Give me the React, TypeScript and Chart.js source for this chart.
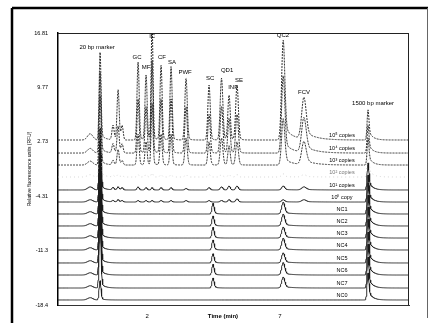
import { useEffect, useRef } from "react";
import { Chart, registerables } from "chart.js";
Chart.register(...registerables);

// ---- data ----
const traceLabels = ["10⁵ copies", "10⁴ copies", "10³ copies", "10² copies", "10¹ copies", "10⁰ copy", "NC1", "NC2", "NC3", "NC4", "NC5", "NC6", "NC7", "NC0"];
const traceBaselines = [2.96, 1.27, -0.28, -1.83, -3.51, -5.07, -6.62, -8.17, -9.73, -11.28, -12.96, -14.52, -16.2, -17.75];

// peaks: times (min), widths (sigma, min), tail fraction, tail decay (min)
const peakTimes = [-0.14, 0.233, 0.72, 0.91, 1.06, 1.662, 1.962, 2.188, 2.526, 2.902, 3.466, 4.331, 4.48, 4.8, 5.083, 5.383, 7.12, 7.9, 10.31];
const peakWidths = [0.1, 0.035, 0.04, 0.04, 0.04, 0.04, 0.04, 0.035, 0.04, 0.04, 0.045, 0.045, 0.04, 0.05, 0.045, 0.05, 0.06, 0.085, 0.035];
const peakTailFrac = [0, 0.08, 0, 0, 0, 0.05, 0.05, 0.05, 0.05, 0.05, 0.05, 0.05, 0.2, 0.05, 0.05, 0.06, 0.15, 0.2, 0.35];
const peakTailTau = [1, 0.15, 1, 1, 1, 0.1, 0.1, 0.1, 0.1, 0.1, 0.1, 0.1, 0.1, 0.1, 0.1, 0.1, 0.3, 0.4, 0.15];

// heights per trace (units), same order as peakTimes
const heights10e5 = [0.8, 11.4, 1.9, 6.5, 1.9, 10.1, 8.4, 15, 9.7, 9.5, 8.0, 7.1, 0, 8.0, 5.8, 7.1, 12.9, 5.4, 3.9];
const heights10e4 = [0.6, 10.5, 1.2, 3.5, 1.2, 7, 6, 12, 7, 7, 6, 5, 0, 6, 4.5, 5, 10, 4.5, 3.6];
const heights10e3 = [0.5, 9, 0.6, 2, 0.6, 4, 3, 8, 4, 4, 3.5, 3, 0, 3.5, 2.5, 3, 6, 3, 3.5];
const heights10e2 = [0.3, 8, 0.2, 0.3, 0.2, 0.3, 0.3, 0.5, 0.3, 0.3, 0.3, 0.3, 0, 0.3, 0.3, 0.3, 0.4, 0.3, 3.5];
const heights10e1 = [0.4, 8, 0.3, 0.4, 0.3, 0.4, 0.3, 0.3, 0.3, 0.3, 0.2, 0.3, 0, 0.4, 0.5, 0.5, 0.5, 0.4, 3.5];
const heights10e0 = [0.3, 8, 0.2, 0.3, 0.2, 0.2, 0.2, 0.2, 0.2, 0.2, 0.2, 0.2, 0, 0.2, 0.3, 0.4, 0.3, 0.3, 3.5];
const heightsNC1 = [0.3, 9, 0, 0, 0, 0, 0, 0, 0, 0, 0, 0, 1.4, 0, 0, 0, 1.5, 0, 4];
const heightsNC2 = [0.3, 9, 0, 0, 0, 0, 0, 0, 0, 0, 0, 0, 1.3, 0, 0, 0, 1.5, 0, 4];
const heightsNC3 = [0.3, 9, 0, 0, 0, 0, 0, 0, 0, 0, 0, 0, 1.4, 0, 0, 0, 1.4, 0, 4];
const heightsNC4 = [0.3, 9, 0, 0, 0, 0, 0, 0, 0, 0, 0, 0, 1.3, 0, 0, 0, 1.5, 0, 4];
const heightsNC5 = [0.3, 9, 0, 0, 0, 0, 0, 0, 0, 0, 0, 0, 1.2, 0, 0, 0, 1.3, 0, 4];
const heightsNC6 = [0.3, 9, 0, 0, 0, 0, 0, 0, 0, 0, 0, 0, 1.4, 0, 0, 0, 1.6, 0, 4];
const heightsNC7 = [0.3, 9, 0, 0, 0, 0, 0, 0, 0, 0, 0, 0, 1.3, 0, 0, 0, 1.4, 0, 4];
const heightsNC0 = [0.3, 2.5, 0, 0, 0, 0, 0, 0, 0, 0, 0, 0, 0, 0, 0, 0, 0, 0, 3.5];
const traceHeights = [heights10e5, heights10e4, heights10e3, heights10e2, heights10e1, heights10e0, heightsNC1, heightsNC2, heightsNC3, heightsNC4, heightsNC5, heightsNC6, heightsNC7, heightsNC0];

// peak annotations (text, time, value)
const peakLabelTexts = ["20 bp marker", "GC", "MF", "IC", "CF", "SA", "PWF", "SC", "QD1", "INF", "SE", "QC2", "FCV", "1500 bp marker"];
const peakLabelTimes = [0.12, 1.62, 1.96, 2.19, 2.56, 2.94, 3.43, 4.37, 5.01, 5.23, 5.46, 7.11, 7.9, 10.5];
const peakLabelValues = [15.0, 13.7, 12.3, 16.4, 13.7, 13.05, 11.76, 10.98, 12.0, 9.82, 10.73, 16.55, 9.17, 7.75];

const xMin = -1.35;
const xMax = 11.85;
const xTickValues = [2, 7];
const yTickValues = [16.81, 9.77, 2.73, -4.31, -11.35, -18.4];
const yTickLabels = ["16.81", "9.77", "2.73", "-4.31", "-11.3", "-18.4"];
const xTitle = "Time (min)";
const yTitle = "Relative fluorescence units (RFU)";

function signal(t: number, heights: number[], base: number) {
  let v = base;
  for (let i = 0; i < peakTimes.length; i++) {
    const h = heights[i];
    if (!h) continue;
    const d = t - peakTimes[i];
    const g = Math.exp(-0.5 * (d / peakWidths[i]) ** 2);
    if (d < 0) v += h * g;
    else {
      const f = peakTailFrac[i];
      v += h * ((1 - f) * g + f * Math.exp(-d / peakTailTau[i]));
    }
  }
  return v;
}

const FONT = '"Liberation Sans", Arial, sans-serif';

export default function App() {
  const ref = useRef<HTMLCanvasElement>(null);
  useEffect(() => {
    const canvas = ref.current!;
    const step = 0.01;
    const n = Math.round((xMax - xMin) / step);
    const datasets = traceLabels.map((lab, k) => {
      const pts = [];
      for (let i = 0; i <= n; i++) {
        const t = xMin + i * step;
        pts.push({ x: t, y: signal(t, traceHeights[k], traceBaselines[k]) });
      }
      const faint = k === 3;
      return {
        label: lab,
        data: pts,
        borderColor: faint ? "#c8c8c8" : "#1a1a1a",
        borderWidth: faint ? 0.8 : 0.9,
        borderDash: faint ? [1, 3] : k < 3 ? [2, 1] : [],
        pointRadius: 0,
        tension: 0,
      };
    });

    const decor = {
      id: "decor",
      afterDraw(chart: any) {
        const { ctx, chartArea: a, scales } = chart;
        const x = scales.x, y = scales.y;
        ctx.save();
        ctx.strokeStyle = "#222";
        ctx.lineWidth = 1;
        ctx.beginPath();
        ctx.moveTo(a.left, a.top + 0.5);
        ctx.lineTo(a.right, a.top + 0.5);
        ctx.moveTo(a.right - 0.5, a.top);
        ctx.lineTo(a.right - 0.5, a.bottom);
        ctx.stroke();
        // outer frame
        ctx.strokeStyle = "#000";
        ctx.lineWidth = 2.5;
        ctx.beginPath();
        ctx.moveTo(12, 8);
        ctx.lineTo(428, 8);
        ctx.moveTo(12, 8);
        ctx.lineTo(12, 323);
        ctx.stroke();
        ctx.strokeStyle = "#666";
        ctx.lineWidth = 1;
        ctx.beginPath();
        ctx.moveTo(427.5, 8);
        ctx.lineTo(427.5, 318);
        ctx.stroke();
        // peak labels
        ctx.fillStyle = "#000";
        ctx.textAlign = "center";
        ctx.textBaseline = "middle";
        ctx.font = `6px ${FONT}`;
        peakLabelTexts.forEach((s, i) => {
          ctx.fillText(s, x.getPixelForValue(peakLabelTimes[i]), y.getPixelForValue(peakLabelValues[i]));
        });
        // trace labels
        ctx.font = `5.5px ${FONT}`;
        traceLabels.forEach((s, k) => {
          ctx.fillStyle = k === 3 ? "#777" : "#000";
          ctx.fillText(s, x.getPixelForValue(9.33), y.getPixelForValue(traceBaselines[k] + 0.55));
        });
        // titles
        ctx.fillStyle = "#000";
        ctx.font = `bold 6px ${FONT}`;
        ctx.fillText(xTitle, a.left + 0.47 * (a.right - a.left), 316);
        ctx.translate(30, (a.top + a.bottom) / 2);
        ctx.rotate(-Math.PI / 2);
        ctx.font = `5px ${FONT}`;
        ctx.fillText(yTitle, 0, 0);
        ctx.restore();
      },
    };

    const chart = new Chart(canvas, {
      type: "line",
      data: { datasets },
      options: {
        animation: false,
        responsive: false,
        devicePixelRatio: 1,
        parsing: false,
        normalized: true,
        layout: { padding: { top: 33, right: 21, bottom: 0, left: 0 } },
        plugins: { legend: { display: false }, tooltip: { enabled: false } },
        scales: {
          x: {
            type: "linear",
            min: xMin,
            max: xMax,
            afterBuildTicks: (s: any) => { s.ticks = xTickValues.map((v) => ({ value: v })); },
            afterFit: (s: any) => { s.height = 18; },
            ticks: { font: { size: 6, family: FONT }, color: "#000", padding: 0, maxRotation: 0, callback: (v: any) => String(v) },
            grid: { display: false },
            border: { display: true, color: "#333", width: 1, dash: [1, 1] },
          },
          y: {
            min: -18.4,
            max: 16.81,
            afterBuildTicks: (s: any) => { s.ticks = yTickValues.map((v) => ({ value: v })); },
            afterFit: (s: any) => { s.width = 58; },
            ticks: {
              font: { size: 5.5, family: FONT },
              color: "#000",
              padding: 2,
              callback: (v: any) => {
                const i = yTickValues.findIndex((t) => Math.abs(t - v) < 1e-6);
                return i >= 0 ? yTickLabels[i] : "";
              },
            },
            grid: { display: false },
            border: { display: true, color: "#000", width: 1.5 },
          },
        },
      },
      plugins: [decor],
    });
    return () => chart.destroy();
  }, []);
  return (
    <div style={{ position: "absolute", left: 0, top: 0, width: 430, height: 323, background: "#fff" }}>
      <canvas ref={ref} width={430} height={323} style={{ width: 430, height: 323, display: "block" }} />
    </div>
  );
}
